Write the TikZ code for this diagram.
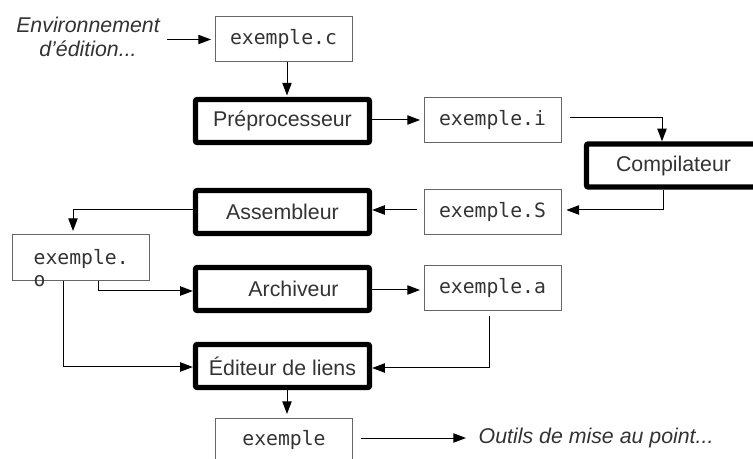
\documentclass[tikz,border=0pt]{standalone}
\usepackage{fontspec}
\setmainfont{Liberation Sans}
\newfontfamily\codefont{DejaVu Sans Mono}
\usetikzlibrary{arrows.meta}
\definecolor{ink}{HTML}{333333}
\definecolor{rim}{HTML}{666666}
\tikzset{
  file/.style={draw=rim, line width=0.75pt, minimum width=137*0.75pt,
    minimum height=45*0.75pt, inner sep=0pt, outer sep=0pt,
    text=ink, font=\codefont\fontsize{14.8}{17}\selectfont},
  tool/.style={draw=black, line width=4.1pt, rounded corners=1.5pt,
    minimum width=174*0.75pt, minimum height=43*0.75pt, inner sep=0pt,
    outer sep=2pt, text=ink, font=\fontsize{16}{18}\selectfont},
  note/.style={text=ink, font=\itshape\fontsize{16}{18}\selectfont, align=center},
  flow/.style={draw=black, line width=0.75pt,
    -{Triangle[length=9.5pt,width=7pt]}},
}
\begin{document}
\begin{tikzpicture}[x=0.75pt, y=-0.75pt]
\useasboundingbox (0,0) rectangle (753,459);
\clip (0,0) rectangle (753,459);

% sources and intermediate files
\node[file] (c) at (283.5,39.5) {exemple.c};
\node[file] (i) at (492.5,120.5) {exemple.i};
\node[file] (s) at (492.5,212.5) {exemple.S};
\node[file, minimum height=46*0.75pt] (o) at (80.5,258) {};
\node[text=ink, font=\codefont\fontsize{14.8}{16.5}\selectfont, align=left, anchor=north west]
  (otext) at (29,245) {exemple.\\o};
\node[file] (a) at (492.5,288) {exemple.a};
\node[file] (x) at (284,440.5) {exemple};

% tools of the chain
\node[tool] (pre) at (282.5,121) {Préprocesseur};
\node[tool] (comp) at (673.5,165.5) {Compilateur};
\node[tool] (asm) at (282.5,212) {Assembleur};
\node[tool] (ar) at (282.5,289) {\hspace*{16.5pt}Archiveur};
\node[tool] (ld) at (282.5,366) {Éditeur de liens};

% outside world
\node[note] (env) at (88,36.5) {Environnement\\d'édition...};
\node[note, anchor=west] (dbg) at (474,438) {Outils de mise au point...};

% bend points
\coordinate (ibend) at (662,118);
\coordinate (cbend) at (663,210);
\coordinate (abend) at (73,210);
\coordinate (obend) at (98,291);
\coordinate (lbend) at (63,367);
\coordinate (rbend) at (489,368);

% connectors
\draw[flow, shorten <=2pt, shorten >=3pt] (env.east |- c.west) -- (c.west);
\draw[flow, shorten >=1pt] (c.south -| 287,0) -- (pre.north -| 287,0);
\draw[flow, shorten >=3pt] (pre.east |- 0,120) -- (i.west |- 0,120);
\draw[flow, shorten <=7pt] (i.east |- ibend) -- (ibend) -- (comp.north -| ibend);
\draw[flow, shorten >=4pt] (comp.south -| cbend) -- (cbend) -- (s.east |- cbend);
\draw[flow, shorten <=5pt] (s.west |- 0,210) -- (asm.east |- 0,210);
\draw[flow, shorten >=3pt] (asm.west |- abend) -- (abend) -- (o.north -| abend);
\draw[flow] (o.south -| obend) -- (obend) -- (ar.west |- obend);
\draw[flow, shorten >=3pt] (ar.east |- 0,290) -- (a.west |- 0,290);
\draw[flow, shorten <=4pt] (a.south -| rbend) -- (rbend) -- (ld.east |- rbend);
\draw[flow] (o.south -| lbend) -- (lbend) -- (ld.west |- lbend);
\draw[flow, shorten >=3pt] (ld.south -| 287,0) -- (x.north -| 287,0);
\draw[flow, shorten <=6pt, shorten >=6pt] (x.east |- dbg.west) -- (dbg.west);
\end{tikzpicture}
\end{document}
